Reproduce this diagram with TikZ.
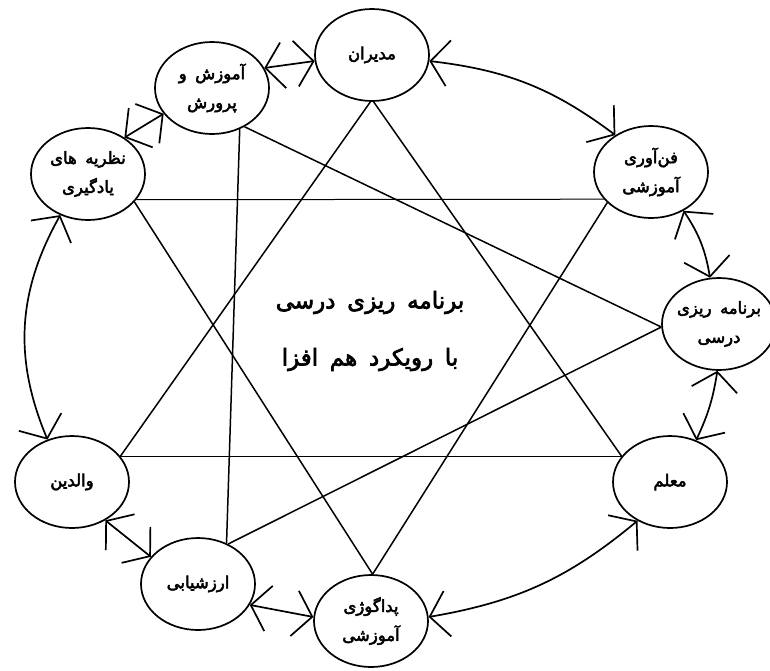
\documentclass[tikz,border=0pt]{standalone}
\usepackage{fontspec}
\usetikzlibrary{shapes.geometric, arrows.meta}
\newfontfamily\farsi[Script=Arabic, FakeBold=3, WordSpace=1.6]{DejaVu Sans}
\TeXXeTstate=1

\begin{document}
\begin{tikzpicture}[x=1pt, y=-1pt, line width=1.7pt,
    >={Straight Barb[length=18pt, width=46pt]},
    ring/.style={draw, ellipse, minimum width=114pt, minimum height=92pt, inner sep=0pt},
    txt/.style={font=\farsi\fontsize{16.5}{29}\selectfont, align=center, inner sep=0pt}]
    \useasboundingbox (0,0) rectangle (770,670);
    \node[ring, label={[txt]center:\beginR مدیران\endR}] (mod) at (372,55) {};
    \node[ring, label={[txt]center:{\beginR آموزش و\endR\\\beginR پرورش\endR}}] (amu) at (212,88) {};
    \node[ring, label={[txt]center:{\beginR نظریه های\endR\\\beginR یادگیری\endR}}] (naz) at (88,174) {};
    \node[ring, label={[txt]center:{\beginR فن‌آوری\endR\\\beginR آموزشی\endR}}] (fan) at (651,172) {};
    \node[ring, label={[txt]center:{\beginR برنامه ریزی\endR\\\beginR درسی\endR}}] (bar) at (719,324) {};
    \node[ring, label={[txt]center:\beginR معلم\endR}] (mol) at (670,482) {};
    \node[ring, label={[txt]center:{\beginR پداگوژی\endR\\\beginR آموزشی\endR}}] (ped) at (371,621) {};
    \node[ring, label={[txt]center:\beginR ارزشیابی\endR}] (arz) at (198,584) {};
    \node[ring, label={[txt]center:\beginR والدین\endR}] (val) at (72,482) {};
    \node[font=\farsi\fontsize{23}{57}\selectfont, align=center] (title) at (370,331)
        {\beginR برنامه ریزی درسی\endR\\\beginR با رویکرد هم افزا\endR};

    \draw[<->] (mod.-6) to[bend left=15] (fan.134);
    \draw[<->] (fan.-50) to[bend left=12] (bar.101);
    \draw[<->] (bar.-92) to[bend left=8] (mol.58);
    \draw[<->] (mol.230) to[bend left=15] (ped.4);
    \draw[<->] (ped.176) -- (arz.-22);
    \draw[<->] (arz.150) -- (val.-49);
    \draw[<->] (val.120) to[bend left=26] (naz.236);
    \draw[<->] (naz.45) -- (amu.208);
    \draw[<->] (amu.21) -- (mod.186);

    \draw[line width=1.5pt] (mod.-92) -- (val.28);
    \draw[line width=1.5pt] (mod.-88) -- (mol.152);
    \draw[line width=1.5pt] (amu.-56) -- (arz.55);
    \draw[line width=1.5pt] (amu.-50) -- (bar.183);
    \draw[line width=1pt] (naz.-28) -- (fan.210);
    \draw[line width=1.5pt] (naz.-31) -- (ped.88);
    \draw[line width=1.5pt] (fan.215) -- (ped.88);
    \draw[line width=1.5pt] (bar.183) -- (arz.53);
    \draw[line width=1pt] (val.28) -- (mol.152);
\end{tikzpicture}
\end{document}
